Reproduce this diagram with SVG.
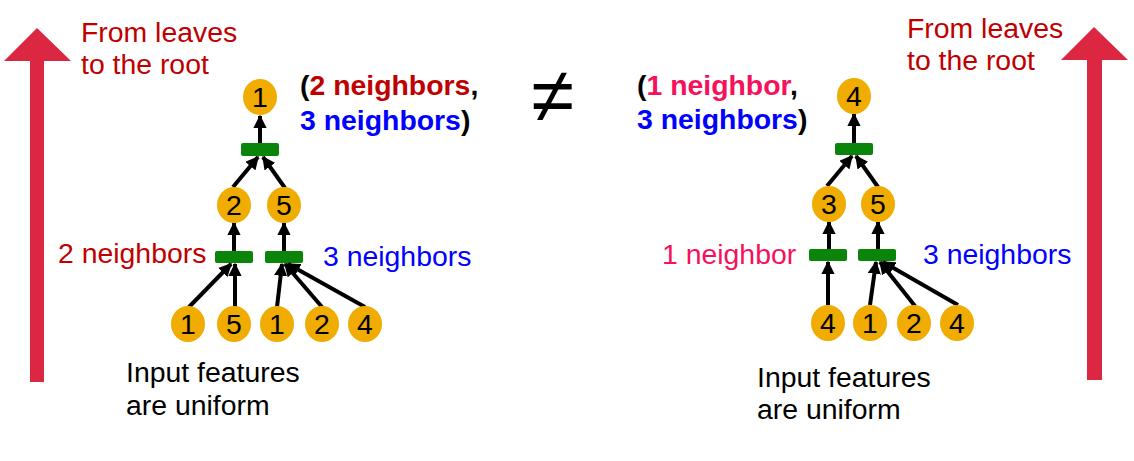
<svg xmlns="http://www.w3.org/2000/svg" width="1134" height="461" viewBox="0 0 1134 461">
<defs>
<marker id="ah" viewBox="0 0 10 10" refX="9" refY="5" markerWidth="3.3" markerHeight="3.3" markerUnits="strokeWidth" orient="auto">
<path d="M0,0 L10,5 L0,10 z" fill="#000"/>
</marker>
</defs>
<style>
text{font-family:"Liberation Sans",Arial,sans-serif;font-size:28.4px}
.node ellipse{fill:#f0ac00}
.node text{fill:#000;text-anchor:middle}
.bar{fill:#0a850a}
.conn line{stroke:#000;stroke-width:4;marker-end:url(#ah)}
.big{fill:#db2742}
.red{fill:#c00000}
.blue{fill:#0000ff}
.pink{fill:#f5115c}
.b{font-weight:bold}
</style>
<rect width="1134" height="461" fill="#fff"/>

<polygon class="big" points="30,382 44,382 44,61 71,61 37,28 4,61 30,61"/>
<polygon class="big" points="1087,380 1102,380 1102,60 1128,60 1094,27 1061,60 1087,60"/>

<text class="red" x="81" y="42">From leaves</text>
<text class="red" x="81" y="74">to the root</text>
<text class="red" x="907" y="38">From leaves</text>
<text class="red" x="907" y="70">to the root</text>

<text class="b" x="300" y="95">(<tspan class="red">2 neighbors</tspan>,</text>
<text class="b" x="300" y="130"><tspan class="blue">3 neighbors</tspan>)</text>
<text class="b" x="637" y="95">(<tspan class="pink">1 neighbor</tspan>,</text>
<text class="b" x="637" y="129"><tspan class="blue">3 neighbors</tspan>)</text>

<text x="553" y="122" style="font-size:78px" text-anchor="middle">≠</text>

<text class="red" x="58" y="263">2 neighbors</text>
<text class="blue" x="323" y="266">3 neighbors</text>
<text class="pink" x="662" y="264">1 neighbor</text>
<text class="blue" x="923" y="264">3 neighbors</text>

<text x="126" y="382">Input features</text>
<text x="126" y="415">are uniform</text>
<text x="757" y="387">Input features</text>
<text x="757" y="419">are uniform</text>

<g id="bars">
<rect class="bar" x="241" y="143" width="38" height="13" rx="2"/>
<rect class="bar" x="215" y="251" width="38" height="12" rx="2"/>
<rect class="bar" x="265" y="251" width="38" height="12" rx="2"/>
<rect class="bar" x="835" y="143" width="38" height="12" rx="2"/>
<rect class="bar" x="809" y="249" width="38" height="12" rx="2"/>
<rect class="bar" x="858" y="249" width="38" height="12" rx="2"/>
</g>

<g class="conn">
<line x1="260" y1="143" x2="260" y2="116"/>
<line x1="233" y1="187" x2="258" y2="157"/>
<line x1="285" y1="188" x2="263" y2="157"/>
<line x1="234" y1="251" x2="234" y2="223"/>
<line x1="284" y1="251" x2="284" y2="223"/>
<line x1="189" y1="307" x2="231" y2="264"/>
<line x1="235" y1="307" x2="235" y2="264"/>
<line x1="277" y1="307" x2="282" y2="264"/>
<line x1="322" y1="307" x2="285" y2="264"/>
<line x1="365" y1="307" x2="288" y2="264"/>
<line x1="854" y1="143" x2="854" y2="114"/>
<line x1="827" y1="186" x2="852" y2="156"/>
<line x1="878" y1="187" x2="856" y2="156"/>
<line x1="829" y1="249" x2="829" y2="222"/>
<line x1="878" y1="249" x2="878" y2="222"/>
<line x1="828" y1="305" x2="828" y2="262"/>
<line x1="870" y1="305" x2="876" y2="262"/>
<line x1="915" y1="306" x2="880" y2="262"/>
<line x1="958" y1="305" x2="883" y2="262"/>
</g>

<g id="L1" class="node"><ellipse cx="260" cy="97" rx="17" ry="18"/><text x="260" y="107">1</text></g>
<g id="L2" class="node"><ellipse cx="234" cy="205" rx="17" ry="18"/><text x="234" y="215">2</text></g>
<g id="L5" class="node"><ellipse cx="284" cy="205" rx="17" ry="18"/><text x="284" y="215">5</text></g>
<g id="La" class="node"><ellipse cx="188" cy="324" rx="17" ry="18"/><text x="188" y="334">1</text></g>
<g id="Lb" class="node"><ellipse cx="234" cy="324" rx="17" ry="18"/><text x="234" y="334">5</text></g>
<g id="Lc" class="node"><ellipse cx="277" cy="324" rx="17" ry="18"/><text x="277" y="334">1</text></g>
<g id="Ld" class="node"><ellipse cx="322" cy="324" rx="17" ry="18"/><text x="322" y="334">2</text></g>
<g id="Le" class="node"><ellipse cx="365" cy="324" rx="17" ry="18"/><text x="365" y="334">4</text></g>

<g id="R4" class="node"><ellipse cx="854" cy="96" rx="17" ry="18"/><text x="854" y="106">4</text></g>
<g id="R3" class="node"><ellipse cx="829" cy="204" rx="17" ry="18"/><text x="829" y="214">3</text></g>
<g id="R5" class="node"><ellipse cx="878" cy="204" rx="17" ry="18"/><text x="878" y="214">5</text></g>
<g id="Ra" class="node"><ellipse cx="828" cy="323" rx="17" ry="18"/><text x="828" y="333">4</text></g>
<g id="Rb" class="node"><ellipse cx="870" cy="323" rx="17" ry="18"/><text x="870" y="333">1</text></g>
<g id="Rc" class="node"><ellipse cx="914" cy="323" rx="17" ry="18"/><text x="914" y="333">2</text></g>
<g id="Rd" class="node"><ellipse cx="957" cy="323" rx="17" ry="18"/><text x="957" y="333">4</text></g>
</svg>
